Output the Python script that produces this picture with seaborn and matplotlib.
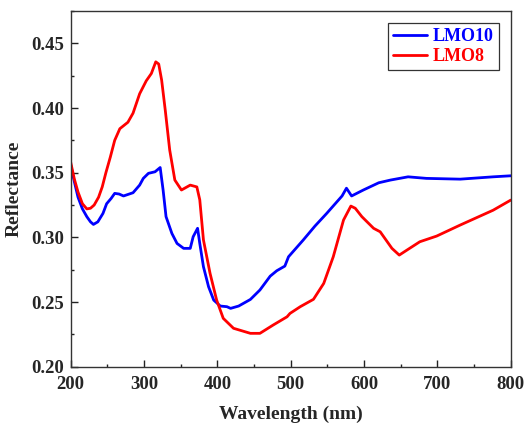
import matplotlib
matplotlib.use("Agg")
import matplotlib.pyplot as plt
from matplotlib.ticker import MultipleLocator, FormatStrFormatter
import pandas as pd
import seaborn as sns

# Diffuse reflectance spectra
lmo10_wl = [200, 205, 210, 216, 222, 227, 231, 237, 244, 249, 255, 260, 266, 272,
            285, 294, 299, 306, 315, 322, 326, 330, 338, 345, 354, 363, 367, 373,
            376, 381, 388, 395, 404, 413, 418, 429, 445, 458, 472, 481, 492, 497,
            517, 533, 549, 563, 570, 576, 583, 599, 620, 636, 660, 685, 731, 776,
            800]
lmo10_r = [0.356, 0.343, 0.331, 0.322, 0.316, 0.312, 0.310, 0.312, 0.3185, 0.326,
           0.330, 0.334, 0.3335, 0.332, 0.3345, 0.3404, 0.3456, 0.3495, 0.3507, 0.354,
           0.3366, 0.316, 0.303, 0.2953, 0.2915, 0.2915, 0.3005, 0.307, 0.2953, 0.2773,
           0.2618, 0.2515, 0.2469, 0.2464, 0.2451, 0.2469, 0.252, 0.2593, 0.270, 0.2742,
           0.2778, 0.285, 0.2979, 0.3087, 0.3185, 0.3275, 0.332, 0.338, 0.332, 0.3366,
           0.3422, 0.3443, 0.3468, 0.3456, 0.345, 0.3468, 0.3476]

lmo8_wl = [200, 205, 210, 216, 222, 227, 232, 238, 243, 248, 254, 260, 267, 278,
           285, 294, 303, 310, 316, 320, 324, 329, 335, 342, 351, 363, 372, 376,
           381, 390, 399, 408, 422, 445, 458, 476, 495, 499, 513, 531, 545, 558,
           572, 582, 588, 597, 613, 622, 638, 648, 658, 676, 699, 731, 776, 800]
lmo8_r = [0.358, 0.345, 0.335, 0.326, 0.322, 0.3225, 0.325, 0.331, 0.339, 0.350,
          0.362, 0.375, 0.384, 0.389, 0.396, 0.411, 0.421, 0.4267, 0.4357, 0.434,
          0.4216, 0.398, 0.3675, 0.3443, 0.3366, 0.3404, 0.339, 0.329, 0.298, 0.2722,
          0.2515, 0.2374, 0.2297, 0.2258, 0.2258, 0.2322, 0.2386, 0.2412, 0.2464,
          0.2521, 0.2644, 0.285, 0.3134, 0.3242, 0.3225, 0.316, 0.307, 0.3043, 0.2915,
          0.2863, 0.290, 0.2966, 0.301, 0.3095, 0.321, 0.3288]

series_names = ["LMO10", "LMO8"]
series_colors = ["#0000ff", "#ff0000"]

df = pd.concat([
    pd.DataFrame({"Wavelength": lmo10_wl, "Reflectance": lmo10_r, "Sample": series_names[0]}),
    pd.DataFrame({"Wavelength": lmo8_wl, "Reflectance": lmo8_r, "Sample": series_names[1]}),
], ignore_index=True)

sns.set_style("ticks")
plt.rcParams["font.family"] = ["Liberation Serif", "DejaVu Serif"]
plt.rcParams["font.weight"] = "bold"

fig = plt.figure(figsize=(5.26, 4.28), dpi=100)
ax = fig.add_axes([0.1344, 0.1432, 0.971 - 0.1344, 0.9743 - 0.1432])

sns.lineplot(data=df, x="Wavelength", y="Reflectance", hue="Sample",
             palette=dict(zip(series_names, series_colors)), linewidth=2.0,
             sort=False, estimator=None, ax=ax, legend=False)

ax.set_xlim(200, 800)
ax.set_ylim(0.20, 0.475)
ax.xaxis.set_major_locator(MultipleLocator(100))
ax.xaxis.set_minor_locator(MultipleLocator(50))
ax.yaxis.set_major_locator(MultipleLocator(0.05))
ax.yaxis.set_minor_locator(MultipleLocator(0.025))
ax.yaxis.set_major_formatter(FormatStrFormatter("%.2f"))

ax.tick_params(which="both", direction="in", top=False, right=False,
               color="#222222", width=1.0)
ax.tick_params(which="major", length=5, labelsize=13.5)
ax.tick_params(axis="y", which="major", pad=5)
ax.tick_params(axis="x", which="major", pad=7)
ax.tick_params(which="minor", length=2.5)
for lbl in ax.get_xticklabels() + ax.get_yticklabels():
    lbl.set_fontweight("bold")

for sp in ax.spines.values():
    sp.set_visible(True)
    sp.set_color("#333333")
    sp.set_linewidth(1.0)

ax.set_xlabel("Wavelength (nm)", fontsize=14, fontweight="bold", labelpad=9)
ax.set_ylabel("Reflectance", fontsize=14, fontweight="bold", labelpad=6)

handles = [plt.Line2D([], [], color=c, linewidth=2.0) for c in series_colors]
leg = ax.legend(handles, series_names, loc="upper right", frameon=True,
                fancybox=False, edgecolor="black",
                handlelength=1.9, handletextpad=0.3, borderpad=0.3,
                labelspacing=0.15, borderaxespad=0.65,
                prop={"weight": "bold", "size": 13})
leg.get_frame().set_linewidth(0.9)
for txt, c in zip(leg.get_texts(), series_colors):
    txt.set_color(c)

fig.savefig("out.png", dpi=100)
